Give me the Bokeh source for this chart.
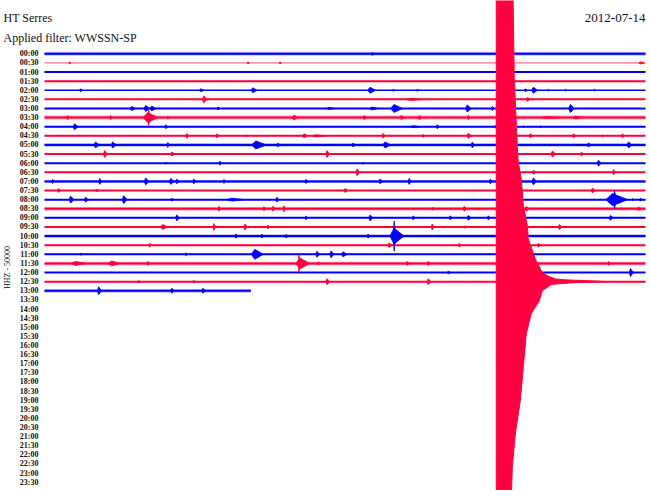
import math
from bokeh.plotting import figure
from bokeh.models import Range1d, Label, ColumnDataSource
from bokeh.core.properties import value
from bokeh.embed import file_html
from bokeh.resources import INLINE

# ---------------- data ----------------
station = "HT Serres"
filter_text = "Applied filter: WWSSN-SP"
date_text = "2012-07-14"
channel_text = "HHZ - 50000"

row_labels = [
    "00:00", "00:30", "01:00", "01:30", "02:00", "02:30", "03:00", "03:30",
    "04:00", "04:30", "05:00", "05:30", "06:00", "06:30", "07:00", "07:30",
    "08:00", "08:30", "09:00", "09:30", "10:00", "10:30", "11:00", "11:30",
    "12:00", "12:30", "13:00", "13:30", "14:00", "14:30", "15:00", "15:30",
    "16:00", "16:30", "17:00", "17:30", "18:00", "18:30", "19:00", "19:30",
    "20:00", "20:30", "21:00", "21:30", "22:00", "22:30", "23:00", "23:30",
]

# minutes recorded in each traced row (row 13:00 is still being recorded)
row_end = [30] * 26 + [10.3]
# background noise half-amplitude per row (row units)
row_noise = [0.18, 0.0, 0.03, 0.03, 0.0, 0.06, 0.06, 0.22, 0.06, 0.06,
             0.18, 0.06, 0.03, 0.05, 0.16, 0.05, 0.06, 0.18, 0.05, 0.05,
             0.18, 0.05, 0.05, 0.19, 0.03, 0.05, 0.18]

# local events: row index, centre time (min), duration (min), amplitude (rows)
ev_row = [0,
          1, 1, 1, 1,
          4, 4, 4, 4, 4, 4, 4, 4, 4, 4, 4,
          5, 5, 5,
          6, 6, 6, 6, 6, 6, 6, 6, 6, 6,
          7, 7, 7, 7, 7, 7, 7, 7, 7, 7, 7, 7,
          8, 8, 8, 8, 8, 8, 8,
          9, 9, 9, 9, 9, 9, 9, 9, 9, 9, 9, 9,
          10, 10, 10, 10, 10, 10, 10, 10, 10, 10,
          11, 11, 11, 11, 11, 11,
          12, 12, 12, 12,
          13, 13, 13,
          14, 14, 14, 14, 14, 14, 14, 14, 14, 14, 14, 14,
          15, 15, 15, 15,
          16, 16, 16, 16, 16, 16, 16, 16, 16, 16,
          17, 17, 17, 17, 17, 17, 17, 17,
          18, 18, 18, 18, 18, 18, 18, 18,
          19, 19, 19, 19, 19, 19, 19,
          20, 20, 20, 20, 20, 20,
          21, 21, 21, 21,
          22, 22, 22, 22, 22, 22,
          23, 23, 23, 23, 23, 23, 23, 23, 23,
          24, 24,
          25, 25, 25, 25,
          26, 26, 26]
ev_t = [16.35,
        1.25, 10.15, 11.75, 29.75,
        1.8, 7.8, 10.4, 16.25, 17.4, 18.6, 24.0, 24.4, 25.15, 26.0, 27.45,
        7.95, 18.3, 24.1,
        4.35, 5.05, 5.35, 8.65, 14.2, 16.35, 17.45, 21.1, 22.35, 26.25,
        1.15, 3.3, 5.15, 5.2, 6.15, 12.45, 15.95, 17.8, 18.7, 21.15, 25.1, 26.5,
        1.5, 6.05, 18.4, 19.6, 22.5, 23.9, 24.75,
        7.1, 8.6, 10.05, 12.95, 13.55, 16.9, 18.9, 21.15, 24.25, 26.4, 27.85, 28.85,
        2.55, 3.4, 6.15, 10.55, 11.65, 15.4, 17.0, 21.35, 27.15, 29.15,
        3.0, 6.35, 14.1, 18.8, 25.35, 26.8,
        6.05, 8.75, 15.9, 27.65,
        15.6, 24.4, 28.4,
        0.4, 2.75, 5.05, 6.3, 6.6, 7.45, 8.95, 13.05, 16.75, 18.2, 22.25, 24.4,
        0.7, 2.6, 15.0, 27.35,
        1.3, 2.05, 3.95, 6.35, 9.35, 11.6, 28.35, 28.45, 29.35, 29.75,
        8.7, 10.95, 11.4, 11.95, 19.35, 20.95, 24.05, 29.65,
        6.6, 13.05, 16.25, 18.4, 20.25, 21.15, 22.15, 28.25,
        5.9, 8.45, 10.0, 11.15, 19.35, 21.0, 25.7,
        9.55, 10.85, 12.05, 16.15, 17.45, 17.45,
        5.25, 17.2, 20.7, 24.65,
        1.8, 7.05, 10.5, 13.6, 14.3, 14.9,
        1.55, 3.35, 5.15, 12.75, 12.7, 13.65, 18.1, 19.15, 28.15,
        20.15, 29.25,
        4.7, 7.45, 14.1, 19.15,
        2.7, 6.35, 7.9]
ev_dur = [0.15,
          0.1, 0.1, 0.1, 0.3,
          0.15, 0.25, 0.3, 0.4, 0.1, 0.1, 0.15, 0.3, 0.1, 0.1, 0.1,
          0.25, 1.0, 0.2,
          0.3, 0.3, 0.3, 0.15, 0.5, 0.5, 0.6, 0.3, 0.15, 0.3,
          0.15, 0.15, 0.75, 0.1, 0.15, 0.3, 0.2, 0.25, 0.2, 0.15, 1.0, 0.5,
          0.25, 0.15, 0.6, 0.15, 0.1, 0.1, 0.1,
          0.15, 0.2, 0.1, 0.3, 0.75, 0.15, 0.15, 0.25, 0.2, 0.2, 0.1, 0.15,
          0.25, 0.25, 0.15, 0.75, 0.15, 0.15, 0.4, 0.15, 0.2, 0.25,
          0.2, 0.25, 0.2, 0.1, 0.25, 0.15,
          0.1, 0.15, 0.1, 0.2,
          0.2, 0.2, 0.2,
          0.15, 0.15, 0.25, 0.25, 0.15, 0.15, 0.15, 0.15, 0.2, 0.15, 0.15, 0.25,
          0.15, 0.25, 0.2, 0.2,
          0.25, 0.2, 0.25, 0.2, 0.9, 0.15, 1.1, 0.15, 0.1, 0.15,
          0.15, 0.15, 0.15, 0.15, 0.15, 0.2, 0.2, 0.15,
          0.2, 0.1, 0.2, 0.15, 0.15, 0.2, 0.15, 0.2,
          0.4, 0.15, 0.2, 0.1, 0.15, 0.1, 0.2,
          0.2, 0.15, 0.25, 0.15, 0.7, 0.1,
          0.15, 0.2, 0.15, 0.15,
          0.1, 0.15, 0.6, 0.2, 0.2, 0.3,
          0.75, 0.6, 0.15, 0.7, 0.1, 0.15, 0.15, 0.15, 0.15,
          0.15, 0.2,
          0.1, 0.1, 0.2, 0.2,
          0.2, 0.2, 0.2]
ev_amp = [0.16,
          0.11, 0.11, 0.11, 0.11,
          0.16, 0.16, 0.27, 0.33, 0.11, 0.11, 0.16, 0.33, 0.11, 0.11, 0.11,
          0.38, 0.11, 0.22,
          0.22, 0.33, 0.27, 0.16, 0.11, 0.16, 0.44, 0.38, 0.22, 0.44,
          0.22, 0.22, 0.55, 0.88, 0.16, 0.27, 0.22, 0.22, 0.22, 0.22, 0.11, 0.16,
          0.33, 0.22, 0.11, 0.22, 0.16, 0.11, 0.11,
          0.27, 0.22, 0.11, 0.22, 0.11, 0.27, 0.16, 0.27, 0.22, 0.22, 0.11, 0.22,
          0.33, 0.33, 0.27, 0.44, 0.22, 0.22, 0.33, 0.33, 0.22, 0.33,
          0.38, 0.22, 0.38, 0.11, 0.33, 0.22,
          0.11, 0.22, 0.11, 0.33,
          0.38, 0.22, 0.27,
          0.22, 0.33, 0.38, 0.33, 0.27, 0.27, 0.22, 0.22, 0.27, 0.33, 0.27, 0.38,
          0.22, 0.11, 0.22, 0.27,
          0.38, 0.27, 0.44, 0.16, 0.16, 0.27, 0.66, 0.99, 0.11, 0.16,
          0.27, 0.22, 0.27, 0.33, 0.16, 0.27, 0.27, 0.22,
          0.33, 0.22, 0.33, 0.22, 0.22, 0.27, 0.22, 0.27,
          0.27, 0.38, 0.33, 0.22, 0.33, 0.16, 0.27,
          0.22, 0.22, 0.16, 0.22, 0.88, 1.65,
          0.22, 0.27, 0.22, 0.22,
          0.11, 0.16, 0.55, 0.33, 0.38, 0.27,
          0.22, 0.27, 0.22, 0.6, 0.99, 0.16, 0.22, 0.22, 0.22,
          0.16, 0.44,
          0.16, 0.16, 0.33, 0.33,
          0.44, 0.27, 0.27]

# teleseismic event on row 12:30: envelope outline (time in min, row units)
quake_t = [22.55, 23.35, 23.45, 23.6, 23.65, 23.8, 23.9, 24.1, 24.15, 24.5,
           24.85, 25.15, 25.5, 26.0, 27.75, 28.1, 26.5, 25.3, 24.85, 24.7,
           24.3, 24.05, 23.9, 23.75, 23.5, 23.35, 23.3, 23.3, 22.55]
quake_y = [-12, -12, 2.7, 10.1, 11.9, 13.7, 16.6, 18.8, 20.3, 22.5,
           24.0, 24.4, 24.7, 24.8, 24.95, 25.0, 25.1, 25.3, 26.0, 27.1,
           28.5, 30.7, 34.4, 38.1, 41.7, 45.4, 49.1, 60, 60]

# ---------------- styles / layout ----------------
BLUE = "#0000ff"
RED = "#ff0040"
FONT = "Liberation Serif"

W, H = 648, 490
TRACE_LEFT, TRACE_RIGHT = 44.0, 645.0      # pixel span of a 30-min row
ROW0_PX, ROW47_PX = 53.3, 481.7            # pixel rows of 00:00 and 23:30
px_per_min = (TRACE_RIGHT - TRACE_LEFT) / 30.0
px_per_row = (ROW47_PX - ROW0_PX) / 47.0
x_start = -TRACE_LEFT / px_per_min
x_end = 30 + (W - TRACE_RIGHT) / px_per_min
y_top = -ROW0_PX / px_per_row
y_bottom = 47 + (H - ROW47_PX) / px_per_row

p = figure(width=W, height=H, output_backend="svg", toolbar_location=None,
           x_axis_type=None, y_axis_type=None,
           x_range=Range1d(x_start, x_end), y_range=Range1d(y_bottom, y_top),
           min_border_left=0, min_border_right=0,
           min_border_top=0, min_border_bottom=0,
           background_fill_color="white", border_fill_color="white")
p.outline_line_color = None
p.xgrid.visible = False
p.ygrid.visible = False

n_rows = len(row_end)
colors = [BLUE if i % 2 == 0 else RED for i in range(n_rows)]
widths = [2.0] * n_rows
widths[1] = 1.0
widths[4] = 1.5
alphas = [1.0] * n_rows
alphas[1] = 0.7

rows = list(range(n_rows))
# noise band
p.quad(left=[0] * n_rows, right=row_end,
       top=[r - n for r, n in zip(rows, row_noise)],
       bottom=[r + n for r, n in zip(rows, row_noise)],
       fill_color=colors, fill_alpha=0.4, line_color=None)
# baselines
p.segment(x0=[0] * n_rows, x1=row_end, y0=rows, y1=rows,
          line_color=colors, line_width=widths, line_alpha=alphas)

# events as spindles
xs, ys, cs = [], [], []
for r, c, d, a in zip(ev_row, ev_t, ev_dur, ev_amp):
    xs.append([c - 0.3 * d, c, c + 0.7 * d, c])
    ys.append([r, r - a, r, r + a])
    cs.append(colors[r])
p.patches(xs, ys, fill_color=cs, line_color=cs, line_width=0.8)

# the big quake on row 12:30
p.patch(quake_t, quake_y, fill_color=RED, line_color=RED, line_width=1)

# row time labels (left of the traces)
lab_src = ColumnDataSource(dict(x=[0] * len(row_labels),
                                y=list(range(len(row_labels))),
                                text=row_labels))
p.text(x="x", y="y", text="text", source=lab_src, x_offset=-6,
       text_align="right", text_baseline="middle",
       text_font=value(FONT), text_font_size="8px", text_font_style="bold",
       text_color="#111111")

# header texts (screen units)
p.add_layout(Label(x=3, y=H - 17, x_units="screen", y_units="screen",
                   text=station, text_font=FONT, text_font_size="12px",
                   text_align="left", text_baseline="middle", text_color="#111111"))
p.add_layout(Label(x=3, y=H - 37, x_units="screen", y_units="screen",
                   text=filter_text, text_font=FONT, text_font_size="12px",
                   text_align="left", text_baseline="middle", text_color="#111111"))
p.add_layout(Label(x=645, y=H - 17, x_units="screen", y_units="screen",
                   text=date_text, text_font=FONT, text_font_size="13px",
                   text_align="right", text_baseline="middle", text_color="#111111"))
p.add_layout(Label(x=7, y=H - 267, x_units="screen", y_units="screen",
                   text=channel_text, text_font=FONT, text_font_size="8px",
                   angle=math.pi / 2, text_align="center", text_baseline="middle",
                   text_color="#111111"))

open("out.html", "w").write(file_html(p, INLINE))
